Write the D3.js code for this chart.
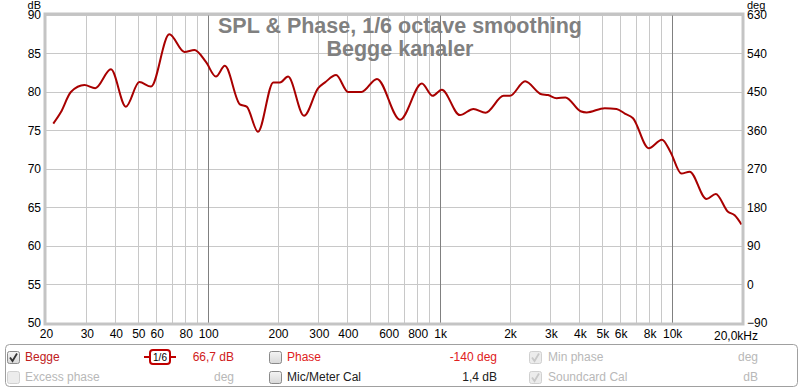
<!DOCTYPE html>
<html>
<head>
<meta charset="utf-8">
<script src="https://cdn.jsdelivr.net/npm/d3@7"></script>
<style>
  body { margin: 0; background: #fff; }
  svg { display: block; font-family: "Liberation Sans", Arial, sans-serif; }
  .tick text { font-size: 12px; fill: #000; }
</style>
</head>
<body>
<svg id="chart" width="800" height="389"></svg>
<script>
// SPL curve (Hz, dB)
const freqs = [21.5, 23.2, 25.6, 29.3, 32.6, 38.1, 44.2, 50.5, 56.7, 68, 79, 87.3, 97.8, 108,
  118, 137, 146.6, 164, 191, 204, 221, 259, 298, 319, 356, 401, 458, 534, 672,
  834, 928, 1016, 1216, 1392, 1568, 1877, 2000, 2323, 2733, 2917, 3176, 3468, 4028, 4280,
  5120, 5760, 6250, 6780, 7920, 9040, 9820, 10960, 11900, 14060, 15420, 17400, 18600, 19900];
const spl = [75.9, 77.4, 80.0, 80.9, 80.5, 82.95, 78.1, 81.3, 80.7, 87.5, 85.2, 85.45, 83.9, 82.0,
  83.4, 78.4, 78.1, 74.85, 81.25, 81.25, 82.0, 76.9, 80.5, 81.25, 82.2, 80.0, 80.0, 81.7, 76.4,
  81.1, 79.5, 80.3, 77.0, 77.8, 77.3, 79.5, 79.5, 81.4, 79.7, 79.6, 79.2, 79.3, 77.5, 77.35,
  77.9, 77.8, 77.2, 76.6, 72.7, 73.8, 72.25, 69.4, 69.65, 66.1, 66.75, 64.45, 64.0, 62.8];

const dbTicks = [50, 55, 60, 65, 70, 75, 80, 85, 90];
const degTicks = [-90, 0, 90, 180, 270, 360, 450, 540, 630];
const freqTicks = [20, 30, 40, 50, 60, 80, 100, 200, 300, 400, 600, 800, 1000, 2000, 3000, 4000, 5000, 6000, 8000, 10000];
const freqLabels = ["20", "30", "40", "50", "60", "80", "100", "200", "300", "400", "600", "800", "1k", "2k", "3k", "4k", "5k", "6k", "8k", "10k"];
const gridFreqs = [30, 40, 50, 60, 70, 80, 90, 200, 300, 400, 500, 600, 700, 800, 900,
  2000, 3000, 4000, 5000, 6000, 7000, 8000, 9000, 20000];
const majorFreqs = [100, 1000, 10000];

const margin = { left: 46, right: 58, top: 15, bottom: 66 };
const W = 800, H = 389;
const width = W - margin.left - margin.right;
const height = H - margin.top - margin.bottom;

const svg = d3.select("#chart");
const g = svg.append("g").attr("transform", `translate(${margin.left},${margin.top})`);

const x = d3.scaleLog().domain([20, 20000]).range([0, width]);
const y = d3.scaleLinear().domain([50, 90]).range([height, 0]);
const yDeg = d3.scaleLinear().domain([-90, 630]).range([height, 0]);

// grid
g.selectAll(".hgrid").data(dbTicks).join("line")
  .attr("x1", 0).attr("x2", width)
  .attr("y1", d => y(d)).attr("y2", d => y(d))
  .attr("stroke", "#c8c8c8").attr("stroke-width", 1).attr("shape-rendering", "crispEdges");
g.selectAll(".vgrid").data(gridFreqs).join("line")
  .attr("x1", d => x(d)).attr("x2", d => x(d))
  .attr("y1", 0).attr("y2", height)
  .attr("stroke", "#c8c8c8").attr("stroke-width", 1).attr("shape-rendering", "crispEdges");
g.selectAll(".vmajor").data(majorFreqs).join("line")
  .attr("x1", d => x(d)).attr("x2", d => x(d))
  .attr("y1", 0).attr("y2", height)
  .attr("stroke", "#808080").attr("stroke-width", 1).attr("shape-rendering", "crispEdges");

// title
const title = g.append("g").attr("font-weight", "bold").attr("fill", "#808080")
  .attr("font-size", "21.5px").attr("text-anchor", "middle");
title.append("text").attr("x", 400 - margin.left).attr("y", 18).text("SPL & Phase, 1/6 octave smoothing");
title.append("text").attr("x", 400 - margin.left).attr("y", 41).text("Begge kanaler");

// curve
const pts = freqs.map((f, i) => [f, spl[i]]);
g.append("path").datum(pts)
  .attr("fill", "none")
  .attr("stroke", "#a80000")
  .attr("stroke-width", 2)
  .attr("d", d3.line().x(d => x(d[0])).y(d => y(d[1])).curve(d3.curveMonotoneX));

// frame
g.append("rect").attr("x", -1).attr("y", -1).attr("width", width + 2).attr("height", height + 2)
  .attr("fill", "none").attr("stroke", "#c4c4c4").attr("stroke-width", 3);

// axes
g.append("g").call(d3.axisLeft(y).tickValues(dbTicks).tickSize(0).tickPadding(5))
  .call(a => a.select(".domain").remove());
g.append("g").attr("transform", `translate(${width},0)`)
  .call(d3.axisRight(yDeg).tickValues(degTicks).tickSize(0).tickPadding(5))
  .call(a => a.select(".domain").remove());
g.append("g").attr("transform", `translate(0,${height})`)
  .call(d3.axisBottom(x).tickValues(freqTicks).tickFormat((d, i) => freqLabels[i]).tickSize(0).tickPadding(6))
  .call(a => a.select(".domain").remove());
g.append("text").attr("x", width + 16).attr("y", height + 17).attr("text-anchor", "end")
  .attr("font-size", "12px").text("20,0kHz");
// unit labels sit above the top tick labels
svg.append("text").attr("x", 41).attr("y", 9).attr("text-anchor", "end")
  .attr("font-size", "11px").text("dB");
svg.append("text").attr("x", W - margin.right + 5).attr("y", 9)
  .attr("font-size", "11px").text("deg");

// legend panel
const leg = svg.append("g");
leg.append("rect").attr("x", 5.5).attr("y", 344.5).attr("width", 792).attr("height", 42)
  .attr("rx", 4).attr("fill", "#fff").attr("stroke", "#a0a0a0");

const grad = svg.append("defs").append("linearGradient").attr("id", "cb")
  .attr("x1", 0).attr("y1", 0).attr("x2", 0).attr("y2", 1);
grad.append("stop").attr("offset", 0).attr("stop-color", "#f4f4f4");
grad.append("stop").attr("offset", 1).attr("stop-color", "#d8d8d8");

function checkbox(cx, cy, checked, disabled) {
  const b = leg.append("g").attr("transform", `translate(${cx},${cy - 6})`);
  b.append("rect").attr("x", 0.5).attr("y", 0.5).attr("width", 12).attr("height", 12).attr("rx", 2)
    .attr("fill", disabled ? "#ececec" : "url(#cb)")
    .attr("stroke", disabled ? "#d0d0d0" : "#8a8a8a");
  if (checked) {
    b.append("path").attr("d", "M3,6.5 L5.5,10 L10,2.5").attr("fill", "none")
      .attr("stroke", disabled ? "#c8c8c8" : "#333").attr("stroke-width", 1.8);
  }
}
function label(tx, ty, text, color, anchor) {
  leg.append("text").attr("x", tx).attr("y", ty).attr("font-size", "12px")
    .attr("fill", color).attr("text-anchor", anchor || "start").text(text);
}

const r1 = 357, r2 = 377;
checkbox(7, r1, true, false);
label(25, r1 + 4, "Begge", "#c02020");
// smoothing badge
const sm = leg.append("g");
sm.append("line").attr("x1", 144).attr("x2", 176).attr("y1", r1).attr("y2", r1).attr("stroke", "#c00000").attr("stroke-width", 2);
sm.append("rect").attr("x", 150).attr("y", r1 - 7).attr("width", 20).attr("height", 14).attr("rx", 3)
  .attr("fill", "#fff").attr("stroke", "#c00000").attr("stroke-width", 2);
sm.append("text").attr("x", 160).attr("y", r1 + 4).attr("text-anchor", "middle")
  .attr("font-size", "10px").attr("fill", "#000").text("1/6");
label(234, r1 + 4, "66,7 dB", "#d02020", "end");
checkbox(269, r1, false, false);
label(287, r1 + 4, "Phase", "#e02020");
label(497, r1 + 4, "-140 deg", "#e02020", "end");
checkbox(529, r1, true, true);
label(548, r1 + 4, "Min phase", "#b8b8b8");
label(758, r1 + 4, "deg", "#b8b8b8", "end");

checkbox(7, r2, false, true);
label(25, r2 + 4, "Excess phase", "#b8b8b8");
label(234, r2 + 4, "deg", "#b8b8b8", "end");
checkbox(269, r2, false, false);
label(287, r2 + 4, "Mic/Meter Cal", "#202020");
label(497, r2 + 4, "1,4 dB", "#202020", "end");
checkbox(529, r2, true, true);
label(548, r2 + 4, "Soundcard Cal", "#b8b8b8");
label(758, r2 + 4, "dB", "#b8b8b8", "end");
</script>
</body>
</html>
